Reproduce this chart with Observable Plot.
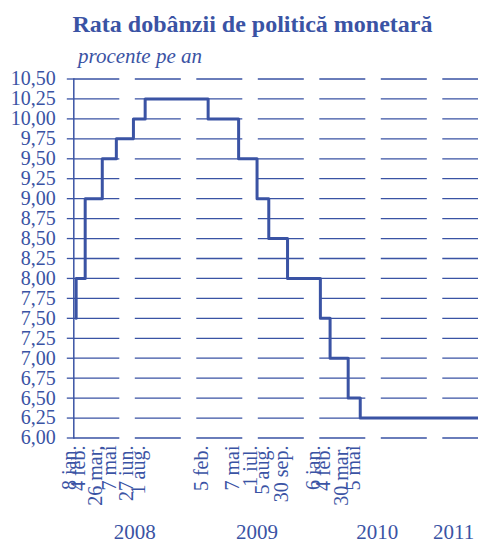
<!DOCTYPE html>
<html>
<head>
<meta charset="utf-8">
<script src="https://cdn.jsdelivr.net/npm/d3@7"></script>
<script src="https://cdn.jsdelivr.net/npm/@observablehq/plot@0.6"></script>
<style>
  html, body { margin: 0; padding: 0; background: #fff; }
  body { position: relative; width: 478px; height: 543px; overflow: hidden; font-family: "Liberation Serif", "Times New Roman", serif; color: #3A53A4; }
  #title { position: absolute; top: 11.5px; left: 0; width: 478px; padding-left: 27px; box-sizing: border-box; text-align: center; font-size: 24px; line-height: 24px; font-weight: bold; white-space: nowrap; }
  #subtitle { position: absolute; top: 45.5px; left: 78px; font-size: 21px; line-height: 21px; font-style: italic; white-space: nowrap; }
  #chart { position: absolute; top: 68px; left: 0; }
</style>
</head>
<body>
<div id="title">Rata dobânzii de politică monetară</div>
<div id="subtitle">procente pe an</div>
<div id="chart"></div>
<script>
// Dates when the policy rate changed, and the new rate from each date
const changeDates = ["2008-01-08","2008-02-04","2008-03-26","2008-05-07","2008-06-27","2008-08-01",
                     "2009-02-05","2009-05-07","2009-07-01","2009-08-05","2009-09-30",
                     "2010-01-06","2010-02-04","2010-03-30","2010-05-05"];
const newRates = [8.00, 9.00, 9.50, 9.75, 10.00, 10.25,
                  10.00, 9.50, 9.00, 8.50, 8.00,
                  7.50, 7.00, 6.50, 6.25];
const startRate = 7.50;
const startDate = "2008-01-01";
const endDate = "2011-04-23";
const tickLabels = ["8 ian.","4 feb.","26 mar,","7 mai","27 iun.","1 aug.",
                    "5 feb.","7 mai","1 iul.","5 aug.","30 sep.",
                    "6 ian.","4 feb.","30 mar,","5 mai"];
const yearLabels = ["2008","2009","2010","2011"];
const yearLabelDates = ["2008-07-01","2009-07-01","2010-06-25","2011-02-08"];
const yTicks = [6.00, 6.25, 6.50, 6.75, 7.00, 7.25, 7.50, 7.75, 8.00, 8.25, 8.50, 8.75,
                9.00, 9.25, 9.50, 9.75, 10.00, 10.25, 10.50];

const parse = d3.utcParse("%Y-%m-%d");
const series = [{date: parse(changeDates[0]), rate: startRate}]
  .concat(changeDates.map((d, i) => ({date: parse(d), rate: newRates[i]})))
  .concat([{date: parse(endDate), rate: newRates[newRates.length - 1]}]);
const ticks = changeDates.map((d, i) => ({date: parse(d), label: tickLabels[i]}));
const years = yearLabels.map((y, i) => ({date: parse(yearLabelDates[i]), label: y}));

const blue = "#3A53A4";
const chart = Plot.plot({
  width: 478,
  height: 475,
  marginTop: 10.5,
  marginBottom: 105.5,
  marginLeft: 73.3,
  marginRight: 0,
  style: {fontFamily: "'Liberation Serif', 'Times New Roman', serif", color: blue, background: "transparent", overflow: "visible"},
  x: {type: "utc", domain: [parse(startDate), parse(endDate)], axis: null},
  y: {domain: [6, 10.5], axis: null},
  marks: [
    Plot.ruleY(yTicks, {stroke: blue, strokeWidth: 1.3, strokeDasharray: "46,15.5"}),
    Plot.axisY({ticks: yTicks, tickFormat: d => d.toFixed(2).replace(".", ","), tickSize: 6.5, tickPadding: 11.5,
                fontSize: 20, stroke: blue, strokeWidth: 1.3, fill: blue, label: null}),
    Plot.frame({anchor: "left", stroke: blue, strokeWidth: 1.5}),
    Plot.line(series, {x: "date", y: "rate", curve: "step-after", stroke: blue, strokeWidth: 3}),
    Plot.text(ticks, {x: "date", text: "label", rotate: -90, textAnchor: "end", frameAnchor: "bottom", dy: 7.5, fontSize: 20, fill: blue}),
    Plot.text(years, {x: "date", text: "label", frameAnchor: "bottom", lineAnchor: "bottom", dy: 101, fontSize: 21, fill: blue})
  ]
});
document.getElementById("chart").appendChild(chart);
</script>
</body>
</html>
